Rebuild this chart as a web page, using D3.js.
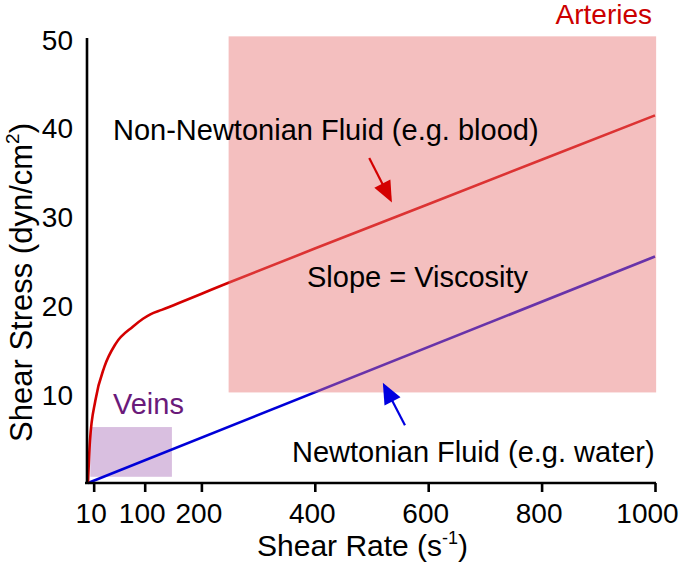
<!DOCTYPE html>
<html><head><meta charset="utf-8">
<script src="https://cdn.jsdelivr.net/npm/d3@7"></script>
<style>html,body{margin:0;padding:0;background:#fff}svg{display:block;font-family:"Liberation Sans",Arial,sans-serif}</style>
</head><body>
<svg id="c" width="680" height="564"></svg>
<script>
// ---- data ----
const xTicks = [10, 100, 200, 400, 600, 800, 1000];
const yTicks = [10, 20, 30, 40, 50];
const newtonianRate = [0, 1000];
const newtonianStress = [0, 25.5];
const bloodRate = [0, 3.5, 13, 29, 49, 79, 97, 110, 130, 250, 400, 600, 800, 1000];
const bloodStress = [0, 4.8, 9.3, 13.1, 15.7, 17.6, 18.5, 19.0, 19.5, 22.6, 26.4, 31.4, 36.4, 41.4];
const arteriesRate = [248, 1002];
const arteriesStress = [10.2, 50.3];
const veinsRate = [4, 148];
const veinsStress = [0.7, 6.3];
const redArrow = [[496, 36.6], [536, 31.6]];
const blueArrow = [[559, 6.5], [520, 11.3]];

const svg = d3.select("#c");
const x = d3.scaleLinear().domain([0, 1000]).range([88, 655]);
const y = d3.scaleLinear().domain([0, 50]).range([483, 39]);
const F = 29;

// veins region
svg.append("rect")
  .attr("x", x(veinsRate[0])).attr("width", x(veinsRate[1]) - x(veinsRate[0]))
  .attr("y", y(veinsStress[1])).attr("height", y(veinsStress[0]) - y(veinsStress[1]))
  .attr("fill", "#d9bfe0");

const line = d3.line().x(d => x(d[0])).y(d => y(d[1]));
svg.append("path").datum(newtonianRate.map((r, i) => [r, newtonianStress[i]]))
  .attr("d", line).attr("fill", "none").attr("stroke", "#0000d8").attr("stroke-width", 2.6);
svg.append("path").datum(bloodRate.map((r, i) => [r, bloodStress[i]]))
  .attr("d", line.curve(d3.curveMonotoneX)).attr("fill", "none").attr("stroke", "#d40000").attr("stroke-width", 2.6);

// arteries region (semi-transparent, above lines)
svg.append("rect")
  .attr("x", x(arteriesRate[0])).attr("width", x(arteriesRate[1]) - x(arteriesRate[0]))
  .attr("y", y(arteriesStress[1])).attr("height", y(arteriesStress[0]) - y(arteriesStress[1]))
  .attr("fill", "#e77171").attr("fill-opacity", 0.45);

// axes
const xAxis = d3.axisBottom(x).tickValues(xTicks).tickFormat(d3.format("d")).tickSize(9).tickSizeOuter(0).tickPadding(6);
const gx = svg.append("g").attr("transform", `translate(0,${y(0)})`).call(xAxis);
gx.select(".domain").attr("d", `M${x(0)-3},0H${x(1000)+1}`).attr("stroke", "#000").attr("stroke-width", 2.6);
gx.selectAll(".tick line").attr("stroke", "#000").attr("stroke-width", 2.6);
gx.selectAll(".tick text").attr("font-size", 28).attr("fill", "#000").attr("font-family", "Liberation Sans, Arial, sans-serif")
  .attr("dx", d => d === 1000 ? -8 : -3).attr("dy", "0.9em");

const yAxis = d3.axisLeft(y).tickValues(yTicks).tickSize(0).tickPadding(14);
const gy = svg.append("g").attr("transform", `translate(${x(0)-1},0)`).call(yAxis);
gy.select(".domain").attr("d", `M0,${y(50)-1}V${y(0)+1}`).attr("stroke", "#000").attr("stroke-width", 2.6);
gy.selectAll(".tick text").attr("font-size", 28).attr("fill", "#000").attr("font-family", "Liberation Sans, Arial, sans-serif")
  .attr("dy", "0.36em");

// axis titles
const xt = svg.append("text").attr("x", 257).attr("y", 556).attr("font-size", 30).attr("fill", "#000");
xt.append("tspan").text("Shear Rate (s");
xt.append("tspan").attr("font-size", 18).attr("dy", -12).text("-1");
xt.append("tspan").attr("dy", 12).text(")");

const yt = svg.append("text").attr("transform", "translate(32,123) rotate(-90)")
  .attr("text-anchor", "end").attr("font-size", 31).attr("fill", "#000");
yt.append("tspan").text("Shear Stress (dyn/cm");
yt.append("tspan").attr("font-size", 19).attr("dy", -13).text("2");
yt.append("tspan").attr("dy", 13).text(")");

// labels
svg.append("text").attr("x", 652).attr("y", 24).attr("text-anchor", "end").attr("font-size", 28).attr("fill", "#cc0000").text("Arteries");
svg.append("text").attr("x", 113).attr("y", 414).attr("font-size", F).attr("fill", "#6a1a7a").text("Veins");
svg.append("text").attr("x", 113).attr("y", 140).attr("font-size", F).attr("fill", "#000").text("Non-Newtonian Fluid (e.g. blood)");
svg.append("text").attr("x", 307).attr("y", 287).attr("font-size", F).attr("fill", "#000").text("Slope = Viscosity");
svg.append("text").attr("x", 292).attr("y", 462).attr("font-size", F).attr("fill", "#000").text("Newtonian Fluid (e.g. water)");

// arrows
function arrow(pts, color) {
  const [x0, y0] = [x(pts[0][0]), y(pts[0][1])];
  const [x1, y1] = [x(pts[1][0]), y(pts[1][1])];
  const a = Math.atan2(y1 - y0, x1 - x0);
  const L = 21, W = 9;
  const bx = x1 - L * Math.cos(a), by = y1 - L * Math.sin(a);
  svg.append("line").attr("x1", x0).attr("y1", y0).attr("x2", bx + 2 * Math.cos(a)).attr("y2", by + 2 * Math.sin(a))
    .attr("stroke", color).attr("stroke-width", 2.2);
  const px = -Math.sin(a), py = Math.cos(a);
  svg.append("path").attr("d", `M${x1},${y1}L${bx + W * px},${by + W * py}L${bx - W * px},${by - W * py}Z`).attr("fill", color);
}
arrow(redArrow, "#d40000");
arrow(blueArrow, "#0000e0");
</script>
</body></html>
